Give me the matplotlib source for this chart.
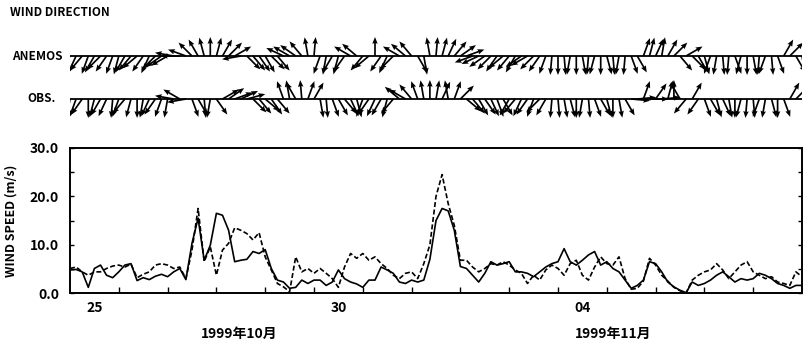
import numpy as np
import matplotlib
matplotlib.use("Agg")
import matplotlib.pyplot as plt

plt.rcParams['font.family'] = ['Noto Sans CJK JP', 'DejaVu Sans']
plt.rcParams['font.weight'] = 'bold'
plt.rcParams['axes.labelweight'] = 'bold'

# 3-hourly samples, hours from 1999-10-25 00:00 to 1999-11-09 00:00
hours = np.arange(121) * 3

speed_solid = [
    4.8, 4.9, 4.4, 1.2, 5.1, 5.8, 3.7, 3.2,
    4.4, 5.8, 6.1, 2.6, 3.2, 2.8, 3.5, 3.9,
    3.4, 4.4, 5.1, 2.8, 10.3, 15.5, 6.8, 9.9,
    16.5, 16.1, 13.0, 6.5, 6.8, 7.0, 8.6, 8.2,
    9.0, 5.1, 2.7, 2.3, 1.0, 1.2, 2.7, 2.0,
    2.7, 2.7, 1.6, 2.3, 4.8, 3.0, 2.3, 1.9,
    1.2, 2.7, 2.7, 5.4, 4.8, 4.1, 2.3, 2.0,
    2.7, 2.3, 2.7, 7.0, 15.0, 17.5, 17.0, 13.0,
    5.5, 5.1, 3.7, 2.3, 4.1, 6.5, 5.8, 6.1,
    6.5, 4.4, 4.4, 4.1, 3.4, 4.4, 5.4, 6.1,
    6.5, 9.2, 6.5, 5.8, 6.8, 7.9, 8.6, 5.8,
    6.5, 5.1, 4.4, 2.7, 1.0, 1.6, 2.7, 6.5,
    6.1, 4.4, 2.3, 1.3, 0.6, 0.1, 2.3, 1.6,
    2.0, 2.7, 3.7, 4.4, 3.4, 2.3, 3.0, 2.7,
    3.0, 4.1, 3.7, 3.0, 2.0, 1.6, 1.0, 1.6, 1.6,
]

speed_dashed = [
    5.1, 5.4, 4.4, 3.7, 4.4, 4.4, 5.1, 5.6,
    5.8, 5.4, 6.0, 3.2, 3.9, 4.4, 5.8, 6.1,
    5.8, 5.1, 5.4, 3.0, 8.9, 17.5, 6.5, 9.6,
    3.7, 8.9, 10.3, 13.5, 13.0, 12.3, 11.0, 12.5,
    7.5, 4.8, 2.0, 1.3, 0.3, 7.5, 4.4, 5.1,
    4.1, 5.1, 4.1, 3.0, 1.2, 5.4, 8.2, 7.2,
    8.2, 6.8, 7.5, 6.1, 5.1, 3.7, 3.0, 4.1,
    4.4, 3.0, 6.1, 10.0, 20.0, 24.5, 18.5, 14.0,
    6.8, 6.8, 5.4, 4.4, 5.1, 6.1, 5.8, 6.5,
    5.8, 4.8, 4.1, 2.0, 3.7, 2.7, 4.8, 5.8,
    5.1, 3.7, 6.1, 6.8, 3.7, 2.7, 5.4, 7.5,
    6.1, 5.8, 7.5, 3.0, 0.8, 1.0, 2.5, 7.2,
    5.8, 3.7, 2.5, 1.2, 0.5, 0.0, 2.7, 3.7,
    4.4, 4.8, 6.1, 4.8, 3.0, 4.4, 5.8, 6.5,
    4.4, 3.7, 3.0, 3.4, 2.3, 2.0, 1.6, 4.4, 3.4,
]

# arrow heading in compass degrees (0 = up, 90 = right)
dir_anemos = [
    215, 205, 220, 200, 210, 225, 215, 200,
    195, 210, 220, 230, 215, 205, 225, 235,
    240, 280, 270, 290, 315, 330, 345, 0,
    15, 30, 45, 60, 260, 135, 140, 145,
    150, 135, 140, 295, 300, 305, 320, 350,
    5, 200, 190, 210, 195, 215, 300, 310,
    220, 230, 0, 215, 205, 225, 300, 310,
    320, 150, 170, 350, 5, 15, 25, 40,
    55, 70, 250, 245, 235, 225, 215, 230,
    220, 210, 235, 240, 225, 215, 200, 185,
    180, 175, 190, 180, 170, 185, 195, 180,
    165, 175, 190, 185, 160, 150, 20, 15,
    25, 10, 30, 45, 140, 60, 135, 150,
    165, 200, 190, 175, 185, 160, 195, 180,
    170, 185, 200, 175, 160, 30, 45, 150, 170,
]

dir_obs = [
    190, 200, 215, 180, 195, 210, 205, 185,
    200, 220, 195, 180, 190, 205, 215, 200,
    190, 280, 300, 260, 160, 150, 175, 190,
    145, 60, 55, 70, 65, 75, 135, 140,
    130, 145, 140, 340, 350, 330, 355, 20,
    30, 170, 175, 160, 150, 140, 155, 165,
    200, 215, 205, 210, 195, 220, 310, 300,
    320, 340, 350, 0, 10, 25, 350, 20,
    45, 130, 140, 150, 145, 155, 160, 150,
    210, 220, 205, 215, 200, 225, 210, 185,
    175, 170, 165, 180, 190, 175, 160, 150,
    165, 180, 170, 150, 95, 85, 20, 90,
    35, 85, 15, 0, 330, 220, 30, 215,
    160, 150, 165, 155, 170, 180, 195, 185,
    175, 200, 190, 165, 180, 160, 30, 45, 55,
]

day_labels = ['25', '30', '04']
day_label_hours = [12, 132, 252]
month_labels = ['1999年10月', '1999年11月']
month_label_hours = [83, 267]

fig = plt.figure(figsize=(8.11, 3.49), dpi=100)

# wind speed panel
ax = fig.add_axes([0.0863, 0.160, 0.9026, 0.416])
ax.plot(hours, speed_dashed, color='black', lw=1.2, ls=(0, (3, 1.5)))
ax.plot(hours, speed_solid, color='black', lw=1.2)
ax.set_xlim(0, 360)
ax.set_ylim(0, 30)
ax.set_yticks([0, 10, 20, 30], labels=['0.0', '10.0', '20.0', '30.0'])
ax.set_yticks([5, 15, 25], minor=True)
ax.set_xticks(np.arange(24, 360, 24), labels=[])
ax.set_xticks(day_label_hours, labels=day_labels, minor=True)
ax.tick_params(axis='x', which='major', direction='in', length=4, width=1)
ax.tick_params(axis='x', which='minor', length=0, labelsize=10, pad=6)
ax.tick_params(axis='y', which='both', direction='in', right=True,
               length=3, labelsize=10, width=1, pad=8)
for s in ax.spines.values():
    s.set_linewidth(1.4)
ax.set_ylabel('WIND SPEED (m/s)', fontsize=9)
ax.yaxis.set_label_coords(-0.072, 0.5)
for lab, h in zip(month_labels, month_label_hours):
    ax.text(h, -0.28, lab, transform=ax.get_xaxis_transform(),
            ha='center', va='center', fontsize=10)

# wind direction sticks
ax2 = fig.add_axes([0.0863, 1 - 125 / 349, 0.9026, 95 / 349])
ax2.set_xlim(0, 360)
ax2.set_ylim(0, 95)
ax2.axis('off')
rows = [(69, dir_anemos, 'ANEMOS', -0.010), (26, dir_obs, 'OBS.', -0.020)]
for y0, dirs, name, xoff in rows:
    th = np.deg2rad(dirs)
    ax2.axhline(y0, color='black', lw=1.3)
    ax2.quiver(hours, np.full(len(hours), y0), np.sin(th), np.cos(th),
               angles='uv', scale_units='inches', scale=1 / 0.19,
               units='dots', width=1.7, headwidth=3.2, headlength=4,
               headaxislength=3.6, color='black')
    ax2.text(xoff, y0, name, transform=ax2.get_yaxis_transform(),
             ha='right', va='center', fontsize=8.5)

fig.text(10 / 811, 1 - 13 / 349, 'WIND DIRECTION', ha='left', va='center',
         fontsize=8.5)

fig.savefig('out.png', dpi=100)
